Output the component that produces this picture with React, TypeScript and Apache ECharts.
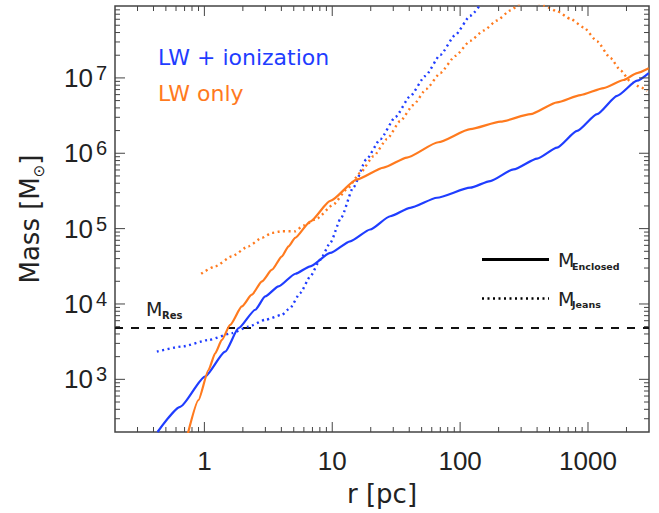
import React, { useEffect, useRef } from "react";
import * as echarts from "echarts";

// ---- axis ranges & ticks ----
const X_MIN = 0.2;
const X_MAX = 3000;
const Y_MIN = 200;
const Y_MAX = 9e7;
const xMajorTicks = [1, 10, 100, 1000];
const yMajorTicks = [1e3, 1e4, 1e5, 1e6, 1e7];
const minorMultipliers = [2, 3, 4, 5, 6, 7, 8, 9];

// ---- resolution mass ----
const resolutionMass = 4800;

// ---- LW + ionization : enclosed mass ----
const rIonEnc = [0.43, 0.647, 1.01, 1.455, 1.85, 2.5, 2.99, 3.8, 5.15, 6.73, 9.65, 13.8, 19.8, 28.4, 40.7, 65.9, 120, 172, 262, 400, 573, 822, 1178, 1690, 2421, 2985];
const mIonEnc = [200, 432, 1085, 2330, 4770, 8380, 12600, 17100, 25200, 31600, 47600, 67900, 97300, 146000, 189000, 257000, 349000, 428000, 612000, 850000, 1.19e6, 1.98e6, 3.31e6, 5.79e6, 9.18e6, 1.16e7];

// ---- LW only : enclosed mass ----
const rLwEnc = [0.743, 0.899, 1.077, 1.215, 1.37, 1.59, 1.965, 2.35, 2.82, 3.38, 4.04, 4.55, 5.13, 6.72, 9.65, 15.6, 25.2, 38.4, 67.5, 120, 207, 355, 573, 873, 1327, 1901, 2421, 2985];
const mLwEnc = [191, 530, 1330, 2220, 3340, 5280, 9270, 13300, 19950, 28500, 42900, 58300, 75500, 124000, 233000, 451000, 646000, 877000, 1.4e6, 2.09e6, 2.63e6, 3.3e6, 4.73e6, 5.92e6, 7.34e6, 9.38e6, 1.16e7, 1.34e7];

// ---- LW + ionization : Jeans mass ----
const rIonJeans = [0.425, 0.667, 1.077, 1.64, 2.21, 2.99, 4.04, 4.69, 5.62, 6.73, 8.06, 9.65, 11.76, 14.6, 18.5, 23.8, 31.1, 40.8, 53.4, 70.0, 91.8, 120, 155];
const mIonJeans = [2330, 2720, 3330, 4100, 5010, 6160, 7180, 8900, 14000, 23200, 38800, 64800, 140600, 352000, 832000, 1.54e6, 3.01e6, 5.74e6, 1.06e7, 2.02e7, 3.72e7, 6.67e7, 1.12e8];

// ---- LW only : Jeans mass ----
const rLwJeans = [0.944, 1.215, 1.64, 2.21, 2.82, 3.38, 4.04, 5.13, 5.96, 7.59, 10.2, 13.0, 16.6, 21.0, 26.8, 34.0, 43.0, 54.4, 70.0, 91.8, 120, 153, 194, 247, 296, 361, 450, 573, 728, 926, 1178, 1496, 1795, 2148, 2576, 2905];
const mLwJeans = [25200, 31600, 42800, 58300, 75500, 87900, 92300, 92300, 110000, 136000, 209000, 332000, 554000, 912000, 1.54e6, 2.67e6, 4.36e6, 7.11e6, 1.16e7, 1.96e7, 3.1e7, 4.25e7, 5.78e7, 7.85e7, 9.64e7, 1.09e8, 9.15e7, 7.66e7, 6.08e7, 4.69e7, 3.05e7, 1.84e7, 1.26e7, 8.96e6, 7.5e6, 6.76e6];

const BLUE = "#1f3dff";
const ORANGE = "#ff7a1e";
const FRAME = "#444";
const TEXT = "#222";
const NUM_FONT = "Liberation Sans";
const TXT_FONT = "DejaVu Sans";

function zip(r: number[], m: number[]) {
  return r.map((v, i) => [v, m[i]]);
}

function tickList(majors: number[], lo: number, hi: number) {
  const out: number[][] = [];
  const decades = [majors[0] / 10, ...majors];
  decades.forEach((d) => {
    if (d >= lo && d <= hi && majors.indexOf(d) >= 0) out.push([d, 1]);
    minorMultipliers.forEach((k) => {
      const v = k * d;
      if (v > lo * 1.0001 && v < hi * 0.9999) out.push([v, 0]);
    });
  });
  return out;
}

function isPow10(v: number) {
  const l = Math.log10(v);
  return Math.abs(l - Math.round(l)) < 1e-6;
}

export default function App() {
  const ref = useRef<HTMLDivElement>(null);

  useEffect(() => {
    if (!ref.current) return;
    const chart = echarts.init(ref.current, undefined, { renderer: "svg" });

    const xTicks = tickList(xMajorTicks, X_MIN, X_MAX);
    const yTicks = tickList(yMajorTicks, Y_MIN, Y_MAX);
    const tickStyle = { stroke: FRAME, lineWidth: 1 };

    const lineBase = {
      type: "line",
      showSymbol: false,
      symbol: "none",
      smooth: 0.2,
      smoothMonotone: "x",
      clip: true,
      silent: true,
    };

    chart.setOption({
      animation: false,
      grid: {
        left: 115,
        right: 10,
        top: 6,
        bottom: 81,
        show: true,
        borderColor: FRAME,
        borderWidth: 1.5,
      },
      xAxis: {
        type: "log",
        logBase: 10,
        min: X_MIN,
        max: X_MAX,
        axisLine: { show: false },
        axisTick: { show: false },
        splitLine: { show: false },
        axisLabel: {
          margin: 16,
          fontSize: 26,
          fontFamily: NUM_FONT,
          color: TEXT,
          formatter: (v: number) => (isPow10(v) ? String(Math.round(v)) : ""),
        },
      },
      yAxis: {
        type: "log",
        logBase: 10,
        min: Y_MIN,
        max: Y_MAX,
        axisLine: { show: false },
        axisTick: { show: false },
        splitLine: { show: false },
        axisLabel: {
          margin: 8,
          formatter: (v: number) =>
            isPow10(v) ? `{a|10}{b|${Math.round(Math.log10(v))}}` : "",
          rich: {
            a: { fontSize: 26, fontFamily: NUM_FONT, color: TEXT, lineHeight: 30 },
            b: {
              fontSize: 20,
              fontFamily: NUM_FONT,
              color: TEXT,
              lineHeight: 14,
              verticalAlign: "top",
              padding: [0, 0, 0, 3],
            },
          },
        },
      },
      series: [
        {
          type: "custom",
          silent: true,
          z: 10,
          data: xTicks.map(([v, major]) => [v, Y_MIN, major]),
          encode: { x: 0, y: 1 },
          renderItem: (params: any, api: any) => {
            const cs = params.coordSys;
            const px = api.coord([api.value(0), Y_MIN])[0];
            const len = api.value(2) ? 10 : 5;
            const bottom = cs.y + cs.height;
            return {
              type: "group",
              children: [
                { type: "line", shape: { x1: px, y1: bottom, x2: px, y2: bottom - len }, style: tickStyle },
                { type: "line", shape: { x1: px, y1: cs.y, x2: px, y2: cs.y + len }, style: tickStyle },
              ],
            };
          },
        },
        {
          type: "custom",
          silent: true,
          z: 10,
          data: yTicks.map(([v, major]) => [X_MIN, v, major]),
          encode: { x: 0, y: 1 },
          renderItem: (params: any, api: any) => {
            const cs = params.coordSys;
            const py = api.coord([X_MIN, api.value(1)])[1];
            const len = api.value(2) ? 10 : 5;
            const right = cs.x + cs.width;
            return {
              type: "group",
              children: [
                { type: "line", shape: { x1: cs.x, y1: py, x2: cs.x + len, y2: py }, style: tickStyle },
                { type: "line", shape: { x1: right, y1: py, x2: right - len, y2: py }, style: tickStyle },
              ],
            };
          },
        },
        {
          ...lineBase,
          name: "M_Res",
          smooth: false,
          data: [
            [X_MIN, resolutionMass],
            [X_MAX, resolutionMass],
          ],
          lineStyle: { color: "#111", width: 2, type: [8, 8] },
          z: 2,
        },
        {
          ...lineBase,
          name: "LW + ionization (Jeans)",
          data: zip(rIonJeans, mIonJeans),
          lineStyle: { color: BLUE, width: 2.4, type: [2, 3.5], cap: "butt" },
          z: 3,
        },
        {
          ...lineBase,
          name: "LW only (Jeans)",
          data: zip(rLwJeans, mLwJeans),
          lineStyle: { color: ORANGE, width: 2.4, type: [2, 3.5], cap: "butt" },
          z: 3,
        },
        {
          ...lineBase,
          name: "LW + ionization (enclosed)",
          data: zip(rIonEnc, mIonEnc),
          lineStyle: { color: BLUE, width: 2.2 },
          z: 4,
        },
        {
          ...lineBase,
          name: "LW only (enclosed)",
          data: zip(rLwEnc, mLwEnc),
          lineStyle: { color: ORANGE, width: 2.2 },
          z: 4,
        },
      ],
      graphic: [
        // axis titles
        {
          type: "text",
          x: 382,
          y: 494,
          style: {
            text: "r [pc]",
            font: `26px "${TXT_FONT}"`,
            fill: TEXT,
            align: "center",
            verticalAlign: "middle",
            textAlign: "center",
            textVerticalAlign: "middle",
          },
        },
        {
          type: "text",
          x: 30,
          y: 219,
          rotation: Math.PI / 2,
          style: {
            text: "{n|Mass [M}{s|⊙}{n|]}",
            fill: TEXT,
            align: "center",
            verticalAlign: "middle",
            textAlign: "center",
            textVerticalAlign: "middle",
            rich: {
              n: { fontSize: 26, fontFamily: TXT_FONT, fill: TEXT, color: TEXT, lineHeight: 32 },
              s: { fontSize: 15, fontFamily: TXT_FONT, fill: TEXT, color: TEXT, lineHeight: 14, verticalAlign: "bottom" },
            },
          },
        },
        // colour legend
        {
          type: "text",
          x: 158,
          y: 57,
          style: {
            text: "LW + ionization",
            font: `22px "${TXT_FONT}"`,
            fill: BLUE,
            verticalAlign: "middle",
            textVerticalAlign: "middle",
          },
        },
        {
          type: "text",
          x: 158,
          y: 93,
          style: {
            text: "LW only",
            font: `22px "${TXT_FONT}"`,
            fill: ORANGE,
            verticalAlign: "middle",
            textVerticalAlign: "middle",
          },
        },
        // M_Res label
        {
          type: "text",
          x: 146,
          y: 309,
          style: { text: "M", font: `19px "${TXT_FONT}"`, fill: TEXT, verticalAlign: "middle", textVerticalAlign: "middle" },
        },
        {
          type: "text",
          x: 162,
          y: 315.5,
          style: { text: "Res", font: `bold 10px "${TXT_FONT}"`, fill: TEXT, verticalAlign: "middle", textVerticalAlign: "middle" },
        },
        // line-style legend
        {
          type: "line",
          shape: { x1: 482, y1: 259.5, x2: 549, y2: 259.5 },
          style: { stroke: "#000", lineWidth: 3 },
        },
        {
          type: "line",
          shape: { x1: 482, y1: 298.5, x2: 549, y2: 298.5 },
          style: { stroke: "#000", lineWidth: 2.5, lineDash: [2, 3.5] },
        },
        {
          type: "text",
          x: 558,
          y: 260,
          style: { text: "M", font: `19px "${TXT_FONT}"`, fill: TEXT, verticalAlign: "middle", textVerticalAlign: "middle" },
        },
        {
          type: "text",
          x: 572,
          y: 266,
          style: { text: "Enclosed", font: `bold 9.5px "${TXT_FONT}"`, fill: TEXT, verticalAlign: "middle", textVerticalAlign: "middle" },
        },
        {
          type: "text",
          x: 558,
          y: 298.5,
          style: { text: "M", font: `19px "${TXT_FONT}"`, fill: TEXT, verticalAlign: "middle", textVerticalAlign: "middle" },
        },
        {
          type: "text",
          x: 572,
          y: 304,
          style: { text: "Jeans", font: `bold 9.5px "${TXT_FONT}"`, fill: TEXT, verticalAlign: "middle", textVerticalAlign: "middle" },
        },
      ],
    });

    return () => chart.dispose();
  }, []);

  return (
    <div
      ref={ref}
      style={{ position: "fixed", left: 0, top: 0, width: 659, height: 513, background: "#fff" }}
    />
  );
}
